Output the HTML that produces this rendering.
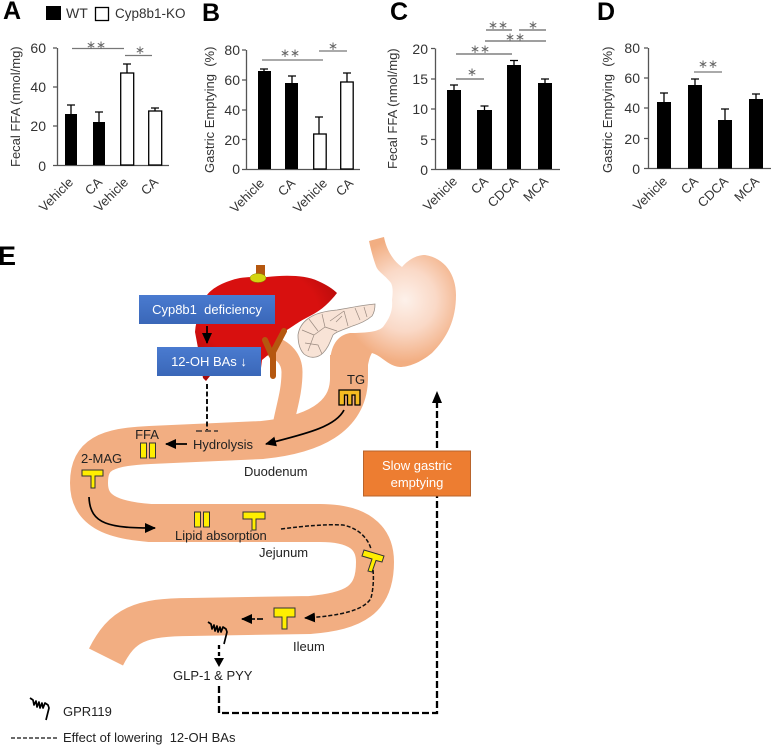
<!DOCTYPE html>
<html><head><meta charset="utf-8"><style>
html,body{margin:0;padding:0;background:#fff}
svg{display:block}
text{font-family:"Liberation Sans",Arial,sans-serif;fill:#222}
.p{font-size:24px;font-weight:bold;fill:#000}
.t{font-size:14px;fill:#333}
.a{font-size:13px;fill:#333}
.l{font-size:13px;fill:#222}
.s{font-size:12px;fill:#666;text-anchor:middle}
.w{fill:#fff}
</style></head><body>
<svg width="771" height="745" viewBox="0 0 771 745" xmlns="http://www.w3.org/2000/svg">
<defs>
<radialGradient id="st" gradientUnits="userSpaceOnUse" cx="405" cy="300" r="62">
<stop offset="0" stop-color="#fdf1ea"/><stop offset="0.5" stop-color="#fad9c7"/><stop offset="1" stop-color="#f2ae82"/></radialGradient>
<linearGradient id="bl" x1="0" y1="0" x2="0" y2="1"><stop offset="0" stop-color="#4a7bd0"/><stop offset="1" stop-color="#3a67b8"/></linearGradient>
<radialGradient id="lv" cx="0.45" cy="0.35" r="0.7"><stop offset="0.6" stop-color="#d8100f"/><stop offset="1" stop-color="#a80a0a"/></radialGradient>
<marker id="ah" markerWidth="12" markerHeight="10" refX="10" refY="5" orient="auto" markerUnits="userSpaceOnUse"><path d="M0 0L11 5L0 10Z" fill="#000"/></marker>
<g id="coil"><path d="M208 622L211 624L212 629L214 625L215 631L217 626L218 632L220 627L221 632L223 627L226 629L227 632L224 644" fill="none" stroke="#000" stroke-width="1.700" stroke-linejoin="round"/></g>
</defs>

<!-- Panel letters and legend -->
<text class="p" x="3" y="19" style="font-size:25px">A</text>
<text class="p" x="202" y="21" style="font-size:25px">B</text>
<text class="p" x="390" y="20" style="font-size:25px">C</text>
<text class="p" x="597" y="20" style="font-size:25px">D</text>
<text class="p" x="-2" y="265" style="font-size:27px">E</text>
<rect x="46" y="6" width="15" height="14" fill="#000"/>
<text class="t" x="66" y="18">WT</text>
<rect x="95.500" y="7.500" width="13" height="13" fill="#fff" stroke="#000" stroke-width="1.300"/>
<text class="a" x="115" y="18" style="font-size:13.500px">Cyp8b1-KO</text>

<!-- Panel A -->
<g stroke="#555" stroke-width="1.300" fill="none">
<path d="M57.500 48V165.500H169M53 48H57M53 87H57M53 126H57M53 165.500H57"/>
<path d="M72 48.500H124M125 55.500H152" stroke="#777"/>
</g>
<g text-anchor="end"><text x="46" y="53" class="t">60</text><text x="46" y="92" class="t">40</text><text x="46" y="131" class="t">20</text><text x="46" y="171" class="t">0</text></g>
<text class="a" transform="translate(20,167) rotate(-90)">Fecal FFA (nmol/mg)</text>
<g stroke="#000" stroke-width="1.300" fill="none"><path d="M71 114V105M67 105H75M99 122V112M95 112H103M127 73V64M123 64H131M155 111V108M151 108H159"/></g>
<rect x="65" y="114" width="12" height="51" fill="#000"/><rect x="93" y="122" width="12" height="43" fill="#000"/>
<rect x="120.700" y="73" width="13" height="92" fill="#fff" stroke="#000" stroke-width="1.300"/><rect x="148.700" y="111" width="13" height="54" fill="#fff" stroke="#000" stroke-width="1.300"/>
<text class="s" x="96" y="49">∗∗</text><text class="s" x="140" y="54">∗</text>
<g text-anchor="end">
<text class="a" transform="translate(74,183) rotate(-45)">Vehicle</text>
<text class="a" transform="translate(103,183) rotate(-45)">CA</text>
<text class="a" transform="translate(129,183) rotate(-45)">Vehicle</text>
<text class="a" transform="translate(159,183) rotate(-45)">CA</text>
</g>

<!-- Panel B -->
<g stroke="#555" stroke-width="1.300" fill="none">
<path d="M246.500 50V169.500H360M242 50H246M242 80H246M242 110H246M242 139.500H246M242 169.500H246"/>
<path d="M262 60H323M319 51H347" stroke="#777"/>
</g>
<g text-anchor="end"><text x="240" y="55" class="t">80</text><text x="240" y="85" class="t">60</text><text x="240" y="115" class="t">40</text><text x="240" y="145" class="t">20</text><text x="240" y="174" class="t">0</text></g>
<text class="a" transform="translate(214,173) rotate(-90)">Gastric Emptying &#160;(%)</text>
<g stroke="#000" stroke-width="1.300" fill="none"><path d="M264 71V69M260 69H268M292 83V76M288 76H296M319 134V117M315 117H323M347 82V73M343 73H351"/></g>
<rect x="258" y="71" width="13" height="98" fill="#000"/><rect x="285" y="83" width="13" height="86" fill="#000"/>
<rect x="313.700" y="134" width="12.500" height="35" fill="#fff" stroke="#000" stroke-width="1.300"/><rect x="340.700" y="82" width="12.500" height="87" fill="#fff" stroke="#000" stroke-width="1.300"/>
<text class="s" x="290" y="57">∗∗</text><text class="s" x="333" y="50">∗</text>
<g text-anchor="end">
<text class="a" transform="translate(265,184) rotate(-45)">Vehicle</text>
<text class="a" transform="translate(296,184) rotate(-45)">CA</text>
<text class="a" transform="translate(328,184) rotate(-45)">Vehicle</text>
<text class="a" transform="translate(354,184) rotate(-45)">CA</text>
</g>

<!-- Panel C -->
<g stroke="#555" stroke-width="1.300" fill="none">
<path d="M435.500 48.500V169.500H560M431 48.500H435M431 79H435M431 109H435M431 139.500H435M431 169.500H435"/>
<path d="M456 79H484M456 54H512M485 41H546M486 30H512M519 30H546" stroke="#666"/>
</g>
<g text-anchor="end"><text x="428" y="54" class="t">20</text><text x="428" y="84" class="t">15</text><text x="428" y="114" class="t">10</text><text x="428" y="145" class="t">5</text><text x="428" y="175" class="t">0</text></g>
<text class="a" transform="translate(397,169) rotate(-90)">Fecal FFA (nmol/mg)</text>
<g stroke="#000" stroke-width="1.300" fill="none"><path d="M454 90V85M450 85H458M484.500 110V106M480.500 106H488.500M514 65V60.500M510 60.500H518M545 83V79M541 79H549"/></g>
<rect x="447" y="90" width="14" height="79" fill="#000"/><rect x="477" y="110" width="15" height="59" fill="#000"/><rect x="507" y="65" width="14" height="104" fill="#000"/><rect x="538" y="83" width="14" height="86" fill="#000"/>
<text class="s" x="472" y="76">∗</text><text class="s" x="480" y="53">∗∗</text>
<text class="s" x="515" y="41">∗∗</text><text class="s" x="498" y="29">∗∗</text><text class="s" x="533" y="29">∗</text>
<g text-anchor="end">
<text class="a" transform="translate(458,182) rotate(-45)">Vehicle</text>
<text class="a" transform="translate(489,182) rotate(-45)">CA</text>
<text class="a" transform="translate(519,182) rotate(-45)">CDCA</text>
<text class="a" transform="translate(549,182) rotate(-45)">MCA</text>
</g>

<!-- Panel D -->
<g stroke="#555" stroke-width="1.300" fill="none">
<path d="M648.500 48V168.500H771M644 48H648M644 78H648M644 108H648M644 138.500H648M644 168.500H648"/>
<path d="M694 72H722" stroke="#777"/>
</g>
<g text-anchor="end"><text x="640" y="53" class="t">80</text><text x="640" y="83" class="t">60</text><text x="640" y="113" class="t">40</text><text x="640" y="144" class="t">20</text><text x="640" y="174" class="t">0</text></g>
<text class="a" transform="translate(612,173) rotate(-90)">Gastric Emptying &#160;(%)</text>
<g stroke="#000" stroke-width="1.300" fill="none"><path d="M664 102V93M660 93H668M695 85V79M691 79H699M725 120V109M721 109H729M756 99V94M752 94H760"/></g>
<rect x="657" y="102" width="14" height="66.500" fill="#000"/><rect x="688" y="85" width="14" height="83.500" fill="#000"/><rect x="718" y="120" width="14" height="48.500" fill="#000"/><rect x="749" y="99" width="14" height="69.500" fill="#000"/>
<text class="s" x="708" y="68">∗∗</text>
<g text-anchor="end">
<text class="a" transform="translate(668,182) rotate(-45)">Vehicle</text>
<text class="a" transform="translate(699,182) rotate(-45)">CA</text>
<text class="a" transform="translate(729,182) rotate(-45)">CDCA</text>
<text class="a" transform="translate(760,182) rotate(-45)">MCA</text>
</g>

<!-- Intestine -->
<path d="M268 345C285 350 292 360 292 372C292 395 285 410 281 437" fill="none" stroke="#f2ae82" stroke-width="21"/>
<path d="M349 355L349 378C349 418 312 435 262 440L150 445C105 447 89 455 89 483C89 510 110 520 150 523L320 523C358 523 375 537 375 562C375 600 355 611 310 615L190 617C140 617 122 625 106 657" fill="none" stroke="#f2ae82" stroke-width="38"/>
<!-- Stomach -->
<path d="M369 241L384 237C386 248 392 260 402 267C410 258 418 255 425 255C445 258 456 275 456 295C456 320 447 338 432 353C420 363 408 367 400 367C388 366 382 356 372 353C370 356 369 360 368 365L330 365C330 345 338 335 350 333C365 333 378 332 383 327C390 318 393 310 392 300C393 292 393 287 391 283C385 275 378 272 376 266C373 258 371 250 369 241Z" fill="url(#st)"/>

<!-- Liver -->
<path d="M256 265H265V276H256Z" fill="#b5570f"/>
<path d="M207 295C212 288 225 281 240 278C250 276 262 278 267 277C285 275 305 275 318 281C327 285 333 289 337 293C330 302 322 310 310 316C298 322 292 327 287 330C280 345 272 352 262 360L260 376H210L206 381L203 378L198 348L195 332C196 318 202 305 207 295Z" fill="url(#lv)"/>
<ellipse cx="258" cy="278" rx="8" ry="4.500" fill="#d4d410" stroke="#8a8a00" stroke-width="0.500"/>
<path d="M265 340L273 358M284 331L273 352V376" fill="none" stroke="#b5570f" stroke-width="6" stroke-linecap="round"/>
<!-- Pancreas -->
<path d="M298 335C299 328 303 322 309 318C316 313 326 311 337 310C350 308 362 305 375 304C375 309 374 313 372 316C365 322 358 324 350 327C342 330 336 332 333 335C330 342 328 348 323 353C318 358 310 359 304 354C299 349 298 342 298 335Z" fill="#f8e3d6" stroke="#9a9088" stroke-width="0.800"/>
<path d="M302 330L314 335L308 351M314 335L325 327L322 314M325 327L337 331M330 321L344 311M344 311L348 326M355 308L360 320M309 319L318 331M305 343L318 345L322 354M336 322L342 316M364 307L367 317" fill="none" stroke="#9a8a80" stroke-width="0.700"/>

<!-- Boxes -->
<rect x="139" y="295" width="136" height="29" fill="url(#bl)"/>
<text class="w" x="207" y="314" text-anchor="middle" style="font-size:13px">Cyp8b1&#160; deficiency</text>
<path d="M207 326V343" stroke="#000" stroke-width="1.700" marker-end="url(#ah)"/>
<rect x="157" y="347" width="104" height="29" fill="url(#bl)"/>
<text class="w" x="209" y="366" text-anchor="middle" style="font-size:13px">12-OH BAs ↓</text>
<path d="M207 384V430" stroke="#111" stroke-width="2" stroke-dasharray="5 2.500"/>
<path d="M196 431H218" stroke="#222" stroke-width="1.300" stroke-dasharray="6 3"/>

<!-- Duodenum labels -->
<text class="l" x="147" y="439" text-anchor="middle">FFA</text>
<g fill="#ffee00" stroke="#333" stroke-width="1"><rect x="140.500" y="443" width="6" height="15"/><rect x="149.500" y="443" width="6" height="15"/></g>
<text class="l" x="193" y="449">Hydrolysis</text>
<path d="M187 444H166" stroke="#000" stroke-width="1.700" marker-end="url(#ah)"/>
<text class="l" x="347" y="384">TG</text>
<path d="M339 390H360V405H355V395H352V405H347.500V395H344.500V405H339Z" fill="#f5bb20" stroke="#000" stroke-width="1.300"/>
<path d="M344 410C335 428 300 435 266 444" fill="none" stroke="#000" stroke-width="1.700" marker-end="url(#ah)"/>
<text class="l" x="244" y="476">Duodenum</text>
<text class="l" x="81" y="463">2-MAG</text>
<path d="M82 470H103V476H95V488H91V476H82Z" fill="#ffee00" stroke="#333"/>
<path d="M89 497C90 525 110 528 155 528" fill="none" stroke="#000" stroke-width="1.700" marker-end="url(#ah)"/>

<!-- Jejunum -->
<g fill="#ffee00" stroke="#333" stroke-width="1"><rect x="194.500" y="512" width="6" height="15"/><rect x="203.500" y="512" width="6" height="15"/></g>
<path d="M243 512H265V519H256V530H252V519H243Z" fill="#ffee00" stroke="#333"/>
<text class="l" x="175" y="540">Lipid absorption</text>
<text class="l" x="259" y="557">Jejunum</text>
<path d="M281 529C305 526 325 524 343 525C358 528 368 538 371 549" fill="none" stroke="#111" stroke-width="1.500" stroke-dasharray="4 2"/>
<path d="M364 550L384 556L382 562L376 560.500L372 572L368 571L372 559L362 556Z" fill="#ffee00" stroke="#333"/>
<path d="M373 570C374 580 373 590 371 598C365 610 340 616 305 618" fill="none" stroke="#111" stroke-width="1.500" stroke-dasharray="4 2" marker-end="url(#ah)"/>

<!-- Ileum -->
<path d="M274 608H295V617H287V629H282V617H274Z" fill="#ffee00" stroke="#333"/>
<path d="M263 619H242" stroke="#111" stroke-width="1.700" stroke-dasharray="6 2" marker-end="url(#ah)"/>
<text class="l" x="293" y="651">Ileum</text>
<use href="#coil"/>
<path d="M219 645V661" stroke="#000" stroke-width="2.300" stroke-dasharray="4 3"/>
<path d="M214 658H224L219 667Z" fill="#000"/>
<text class="l" x="173" y="680">GLP-1 &amp; PYY</text>

<!-- Feedback -->
<path d="M219 686V713H437V402" fill="none" stroke="#000" stroke-width="2.300" stroke-dasharray="7 3"/>
<path d="M432 403L437 391L442 403Z" fill="#000"/>
<rect x="363.500" y="451" width="107" height="45" fill="#ed7d31" stroke="#b8642c" stroke-width="1"/>
<text class="w" x="417" y="470" text-anchor="middle" style="font-size:13px">Slow gastric</text>
<text class="w" x="417" y="487" text-anchor="middle" style="font-size:13px">emptying</text>

<!-- Legend -->
<use href="#coil" transform="translate(-178,76)"/>
<text class="l" x="63" y="716">GPR119</text>
<path d="M11 738H58" stroke="#111" stroke-width="1.300" stroke-dasharray="4 2"/>
<text class="l" x="63" y="742">Effect of lowering&#160; 12-OH BAs</text>
</svg>
</body></html>
